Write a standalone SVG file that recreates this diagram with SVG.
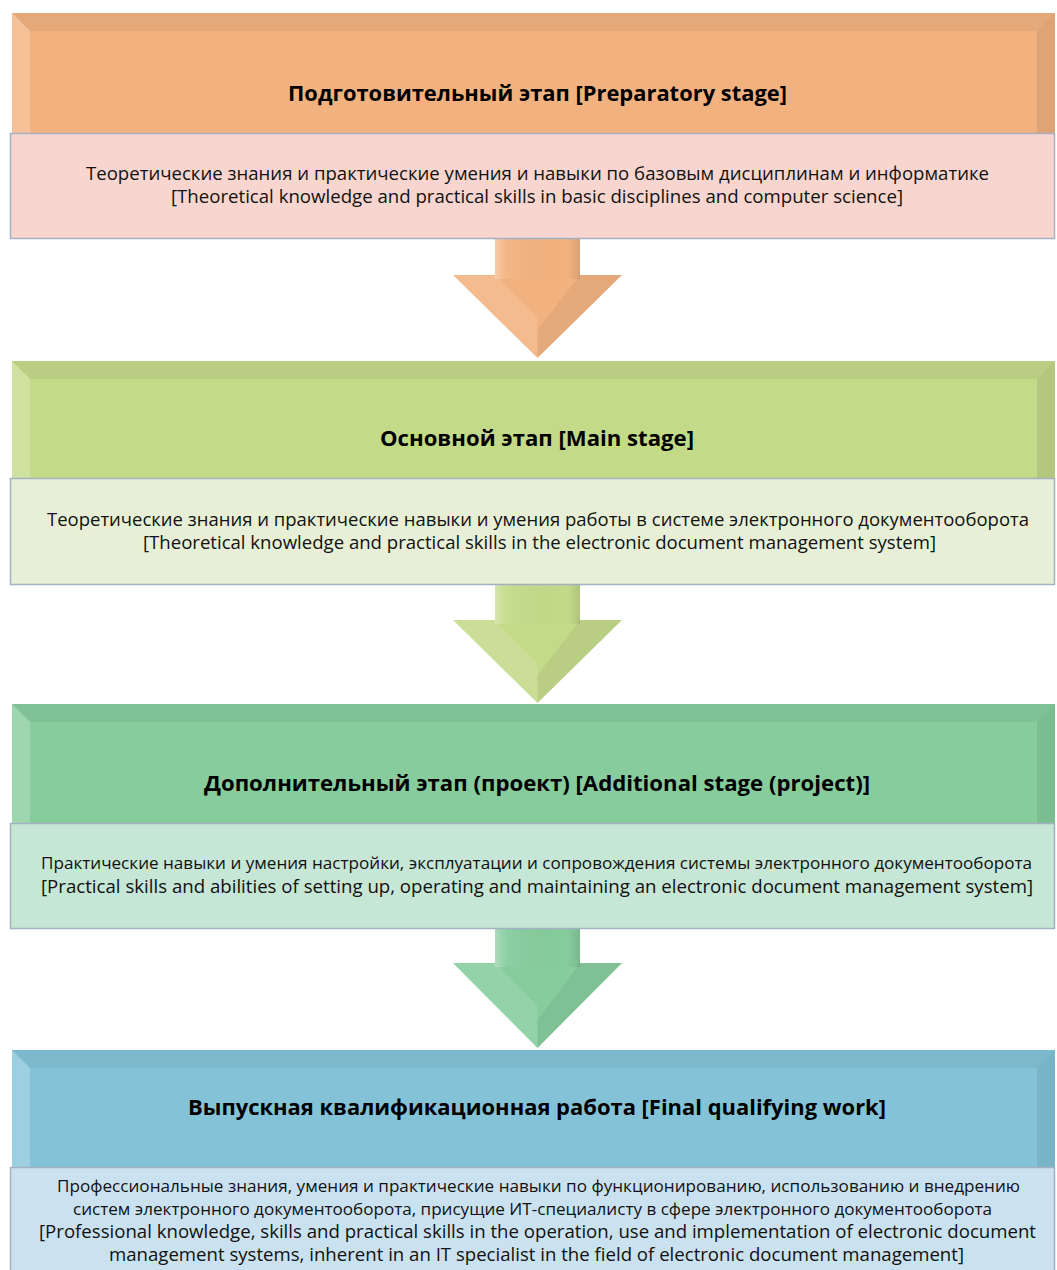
<svg xmlns="http://www.w3.org/2000/svg" width="1057" height="1270" viewBox="0 0 1057 1270">
<defs>
<style>
.title{font-family:"Open Sans","DejaVu Sans",sans-serif;font-weight:700;font-size:21px;fill:#000;text-anchor:middle}
.body{font-family:"Open Sans","DejaVu Sans",sans-serif;font-size:18px;fill:#111;text-anchor:middle}
.narrow{font-size:16px}
.content{stroke:#A3B1C3;stroke-width:1.5}
.bevT{fill:#000;fill-opacity:0.05}
.bevL{fill:#fff;fill-opacity:0.2}
.bevR{fill:#000;fill-opacity:0.08}
.hiR{fill:#000;fill-opacity:0.05}
.facet{fill:#fff;fill-opacity:0.12}
</style>
<linearGradient id="stemShade" x1="0" y1="0" x2="1" y2="0">
<stop offset="0" stop-color="#fff" stop-opacity="0.3"/>
<stop offset="0.15" stop-color="#fff" stop-opacity="0.05"/>
<stop offset="0.85" stop-color="#000" stop-opacity="0"/>
<stop offset="1" stop-color="#000" stop-opacity="0.1"/>
</linearGradient>
</defs>
<rect width="1057" height="1270" fill="#fff"/>

<g id="connectors">
<g id="arrow1">
<polygon points="495,239 580,239 580,275 622,275 537.5,358 453,275 495,275" fill="#F2B27F"/>
<rect x="495" y="239" width="85" height="40" fill="url(#stemShade)"/>
<polygon class="facet" points="453,275 495,275 537.5,318 537.5,358"/>
<polygon class="hiR" points="580,275 622,275 537.5,358 537.5,330"/>
</g>
<g id="arrow2">
<polygon points="495,585 580,585 580,620 622,620 537.5,703 453,620 495,620" fill="#C3DA89"/>
<rect x="495" y="585" width="85" height="39" fill="url(#stemShade)"/>
<polygon class="facet" points="453,620 495,620 537.5,663 537.5,703"/>
<polygon class="hiR" points="580,620 622,620 537.5,703 537.5,675"/>
</g>
<g id="arrow3">
<polygon points="495,929 580,929 580,963 622,963 537.5,1048 453,963 495,963" fill="#86CC9D"/>
<rect x="495" y="929" width="85" height="38" fill="url(#stemShade)"/>
<polygon class="facet" points="453,963 495,963 537.5,1006 537.5,1048"/>
<polygon class="hiR" points="580,963 622,963 537.5,1048 537.5,1020"/>
</g>
</g>

<g id="stage1-header">
<rect x="12" y="13" width="1043" height="120" fill="#F2B27F"/>
<polygon class="bevT" points="12,13 1055,13 1037,31 30,31"/>
<polygon class="bevL" points="12,13 30,31 30,133 12,133"/>
<polygon class="bevR" points="1055,13 1055,133 1037,133 1037,31"/>
<text class="title" x="537.5" y="101" textLength="499" lengthAdjust="spacingAndGlyphs">Подготовительный этап [Preparatory stage]</text>
</g>
<g id="stage1-content">
<rect class="content" x="10.5" y="133.5" width="1044" height="105" fill="#F8D6CF"/>
<text class="body" x="537.5" y="180" textLength="903" lengthAdjust="spacingAndGlyphs">Теоретические знания и практические умения и навыки по  базовым дисциплинам и информатике</text>
<text class="body" x="537" y="203" textLength="732" lengthAdjust="spacingAndGlyphs">[Theoretical knowledge and practical skills in basic disciplines and computer science]</text>
</g>

<g id="stage2-header">
<rect x="12" y="361" width="1043" height="117" fill="#C3DA89"/>
<polygon class="bevT" points="12,361 1055,361 1037,379 30,379"/>
<polygon class="bevL" points="12,361 30,379 30,478 12,478"/>
<polygon class="bevR" points="1055,361 1055,478 1037,478 1037,379"/>
<text class="title" x="537" y="446" textLength="314" lengthAdjust="spacingAndGlyphs">Основной этап [Main stage]</text>
</g>
<g id="stage2-content">
<rect class="content" x="10.5" y="478.5" width="1044" height="106" fill="#E7F0D6"/>
<text class="body" x="538" y="526" textLength="982" lengthAdjust="spacingAndGlyphs">Теоретические знания и практические навыки и умения работы в системе электронного документооборота</text>
<text class="body" x="539.5" y="549" textLength="793" lengthAdjust="spacingAndGlyphs">[Theoretical knowledge and practical skills in the electronic document management system]</text>
</g>

<g id="stage3-header">
<rect x="12" y="704" width="1043" height="119" fill="#86CC9D"/>
<polygon class="bevT" points="12,704 1055,704 1037,722 30,722"/>
<polygon class="bevL" points="12,704 30,722 30,823 12,823"/>
<polygon class="bevR" points="1055,704 1055,823 1037,823 1037,722"/>
<text class="title" x="537" y="791" textLength="666" lengthAdjust="spacingAndGlyphs">Дополнительный этап (проект) [Additional stage (project)]</text>
</g>
<g id="stage3-content">
<rect class="content" x="10.5" y="823.5" width="1044" height="105" fill="#C6E6D6"/>
<text class="body narrow" x="536.5" y="869" textLength="991" lengthAdjust="spacingAndGlyphs">Практические навыки и умения настройки, эксплуатации и сопровождения системы электронного документооборота</text>
<text class="body" x="537" y="893" textLength="992" lengthAdjust="spacingAndGlyphs">[Practical skills and abilities of setting up, operating and maintaining an electronic document management system]</text>
</g>

<g id="stage4-header">
<rect x="12" y="1050" width="1043" height="117" fill="#84C3D7"/>
<polygon class="bevT" points="12,1050 1055,1050 1037,1068 30,1068"/>
<polygon class="bevL" points="12,1050 30,1068 30,1167 12,1167"/>
<polygon class="bevR" points="1055,1050 1055,1167 1037,1167 1037,1068"/>
<text class="title" x="537" y="1115" textLength="698" lengthAdjust="spacingAndGlyphs">Выпускная квалификационная работа [Final qualifying work]</text>
</g>
<g id="stage4-content">
<rect class="content" x="10.5" y="1167.5" width="1044" height="110" fill="#CAE2F0"/>
<text class="body narrow" x="538.5" y="1192" textLength="963" lengthAdjust="spacingAndGlyphs">Профессиональные знания, умения и практические навыки  по функционированию, использованию  и внедрению</text>
<text class="body narrow" x="532.5" y="1215" textLength="919" lengthAdjust="spacingAndGlyphs">систем электронного документооборота, присущие  ИТ-специалисту в сфере электронного документооборота</text>
<text class="body" x="537.5" y="1238" textLength="997" lengthAdjust="spacingAndGlyphs">[Professional knowledge, skills and practical skills in the operation, use and implementation of electronic document</text>
<text class="body" x="536.5" y="1261" textLength="855" lengthAdjust="spacingAndGlyphs">management systems, inherent in an IT specialist in the field of electronic document management]</text>
</g>
</svg>
